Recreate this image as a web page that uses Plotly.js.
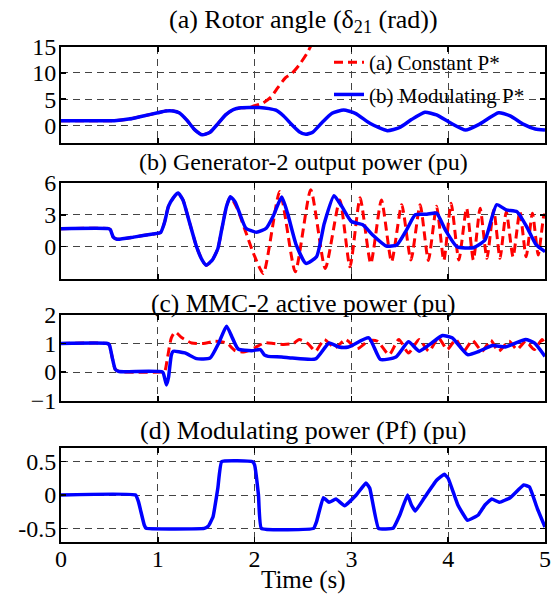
<!DOCTYPE html>
<html>
<head>
<meta charset="utf-8">
<script src="https://cdn.plot.ly/plotly-3.0.1.min.js"></script>
<style>html,body{margin:0;padding:0;background:#fff;}#chart{width:553px;height:599px;}</style>
</head>
<body>
<div id="chart"></div>
<script>
// ---------- Data (time in s) ----------
// (a) Rotor angle delta21 (rad)
const aBlueT = [0,0.55,0.7,0.85,1.0,1.08,1.16,1.22,1.3,1.38,1.46,1.54,1.62,1.7,1.78,1.86,1.95,2.05,2.15,2.22,2.3,2.38,2.46,2.53,2.6,2.7,2.8,2.92,3.04,3.2,3.37,3.5,3.62,3.76,3.88,4.02,4.18,4.32,4.52,4.64,4.78,4.9,5.0];
const aBlueY = [0.9,0.9,1.2,1.8,2.4,2.75,2.75,2.4,1.0,-0.8,-1.8,-1.3,0.3,2.0,3.0,3.35,3.4,3.4,3.2,2.9,1.8,0.2,-1.2,-1.7,-1.3,0.6,2.3,2.95,2.3,0.3,-1.0,-0.4,1.1,2.5,2.0,0.5,-0.9,0.2,2.4,1.8,0.2,-0.7,-0.9];
const aRedT = [0,0.55,0.7,0.85,1.0,1.08,1.16,1.22,1.3,1.38,1.46,1.54,1.62,1.7,1.78,1.86,1.95,1.99,2.08,2.17,2.24,2.32,2.39,2.46,2.54,2.58,2.66];
const aRedY = [0.9,0.9,1.2,1.8,2.4,2.75,2.75,2.4,1.0,-0.8,-1.8,-1.3,0.3,2.0,3.0,3.35,3.4,3.7,4.2,5.4,7.2,9.1,10.0,11.5,13.7,15.1,18.0];

// (b) Generator-2 output power (pu)
const bBlueT = [0,0.49,0.51,0.54,0.58,0.75,0.95,1.03,1.07,1.11,1.16,1.21,1.26,1.33,1.4,1.46,1.5,1.56,1.62,1.66,1.71,1.75,1.8,1.845,1.91,2.02,2.12,2.19,2.28,2.34,2.43,2.53,2.64,2.72,2.82,2.9,3.0,3.12,3.22,3.36,3.47,3.57,3.66,3.78,3.88,3.97,4.09,4.26,4.38,4.5,4.6,4.71,4.81,4.91,5.0];
const bBlueY = [1.7,1.7,1.6,0.9,0.7,0.9,1.2,1.35,2.3,3.8,4.6,5.05,4.4,2.2,0.0,-1.3,-1.75,-1.3,-0.2,1.6,3.8,4.7,4.2,3.16,1.74,1.36,1.74,2.84,4.67,3.16,0.16,-1.58,-0.95,2.2,4.8,3.8,2.37,2.05,1.1,0.06,0.16,1.58,3.0,3.05,3.16,1.58,0.0,-0.1,0.63,3.95,3.47,3.3,1.9,0.16,-0.47];
const bRedT = [0,0.49,0.51,0.54,0.58,0.75,0.95,1.03,1.07,1.11,1.16,1.21,1.26,1.33,1.4,1.46,1.5,1.56,1.62,1.66,1.71,1.75,1.82,1.9,2.0,2.09,2.26,2.42,2.58,2.73,2.88,2.985,3.09,3.2,3.31,3.415,3.52,3.615,3.71,3.795,3.88,3.955,4.03,4.11,4.19,4.26,4.33,4.4,4.47,4.535,4.6,4.67,4.74,4.805,4.87,4.93,4.99,5.0];
const bRedY = [1.7,1.7,1.6,0.9,0.7,0.9,1.2,1.35,2.3,3.8,4.6,5.05,4.4,2.2,0.0,-1.3,-1.75,-1.3,-0.2,1.6,3.8,4.7,3.6,1.6,-0.9,-2.53,5.2,-2.37,5.37,-2.05,4.4,-1.9,4.6,-1.58,4.4,-1.42,3.95,-1.26,3.95,-1.3,3.8,-1.3,4.1,-1.26,3.63,-1.26,3.63,-1.1,3.47,-1.1,3.3,-0.95,3.3,-0.95,3.16,-0.79,3.0,2.8];

// (c) MMC-2 active power (pu)
const cBlueT = [0,0.48,0.5,0.53,0.56,0.6,1.05,1.07,1.09,1.11,1.14,1.16,1.28,1.4,1.54,1.63,1.71,1.77,1.83,1.97,2.06,2.1,2.14,2.28,2.39,2.63,2.77,2.87,2.97,3.18,3.3,3.46,3.59,3.7,3.83,3.94,4.04,4.2,4.32,4.46,4.59,4.8,4.89,5.0];
const cBlueY = [1.0,1.0,0.95,0.5,0.1,0.02,0.0,-0.2,-0.45,-0.2,0.6,0.73,0.67,0.47,0.49,1.02,1.61,1.2,0.81,0.75,0.79,0.6,0.55,0.53,0.49,0.46,1.02,0.88,0.88,1.2,0.44,0.53,1.06,0.73,1.02,1.28,1.2,0.61,0.73,0.93,0.88,1.14,1.02,0.55];
const cRedT = [0,0.48,0.5,0.53,0.56,0.6,1.05,1.07,1.1,1.14,1.18,1.25,1.35,1.47,1.59,1.71,1.8,1.9,2.0,2.1,2.2,2.3,2.4,2.46,2.55,2.63,2.72,2.83,2.94,3.06,3.18,3.27,3.39,3.49,3.59,3.7,3.8,3.9,3.99,4.08,4.16,4.25,4.35,4.44,4.52,4.63,4.71,4.8,4.89,4.97,5.0];
const cRedY = [1.0,1.0,0.95,0.5,0.1,0.02,0.0,0.0,0.5,1.2,1.4,1.2,1.02,1.0,1.08,1.02,0.75,0.71,0.85,1.02,1.0,0.97,1.0,1.14,1.0,0.73,1.14,0.85,1.14,0.82,1.1,1.08,0.61,1.14,0.67,1.14,0.73,1.2,0.79,1.14,0.73,1.11,0.73,1.11,0.73,1.08,0.79,1.08,0.79,1.14,0.95];

// (d) Modulating power Pf (pu)
const dBlueT = [0,0.77,0.8,0.86,0.88,1.48,1.52,1.57,1.62,1.66,1.98,2.0,2.04,2.07,2.61,2.64,2.71,2.77,2.84,2.93,3.05,3.15,3.19,3.28,3.43,3.5,3.58,3.62,3.66,3.75,3.88,3.96,4.0,4.1,4.2,4.31,4.38,4.45,4.53,4.64,4.78,4.84,4.92,5.0];
const dBlueY = [0,0,-0.1,-0.45,-0.5,-0.5,-0.47,-0.33,0.1,0.5,0.5,0.45,0.0,-0.5,-0.5,-0.4,-0.04,-0.11,-0.06,-0.16,0.0,0.18,0.1,-0.5,-0.5,-0.3,0.0,-0.15,-0.24,-0.05,0.22,0.31,0.25,-0.15,-0.38,-0.3,-0.15,-0.06,-0.11,-0.04,0.15,0.12,-0.2,-0.48];

// Labels
const titles = ['(a) Rotor angle (δ<sub>21</sub> (rad))','(b) Generator-2 output power (pu)','(c) MMC-2 active power (pu)','(d) Modulating power (Pf) (pu)'];
const legendNames = ['(a) Constant P*','(b) Modulating P*'];
const xTicks = [0,1,2,3,4,5];
const yTicksA = [0,5,10,15];
const yTicksB = [0,3,6];
const yTicksC = [-1,0,1,2];
const yTicksD = [-0.5,0,0.5];
const yTickTextD = ['-0.5','0','0.5'];
const xLabel = 'Time (s)';

// ---------- Styling ----------
const FONT = '"Times New Roman", "Liberation Serif", Times, "DejaVu Serif", serif';
const RED = '#ff0000', BLUE = '#0000ff';
const redLine = {color: RED, width: 3, dash: '9px,5px', shape: 'spline', smoothing: 0.6};
const blueLine = {color: BLUE, width: 3.5, shape: 'spline', smoothing: 0.5};

function tr(x, y, line, xa, ya, name, show, grp) {
  return {x: x, y: y, type: 'scatter', mode: 'lines', line: line, xaxis: xa, yaxis: ya,
          name: name || '', showlegend: !!show, legendgroup: grp || undefined, hoverinfo: 'skip'};
}
const data = [
  tr(aRedT, aRedY, redLine, 'x', 'y', legendNames[0], true, 'g1'),
  tr(aBlueT, aBlueY, blueLine, 'x', 'y', legendNames[1], true, 'g2'),
  tr(bRedT, bRedY, redLine, 'x2', 'y2'),
  tr(bBlueT, bBlueY, blueLine, 'x2', 'y2'),
  tr(cRedT, cRedY, redLine, 'x3', 'y3'),
  tr(cBlueT, cBlueY, blueLine, 'x3', 'y3'),
  tr(dBlueT, dBlueY, Object.assign({}, blueLine, {smoothing: 0.3}), 'x4', 'y4')
];

const W = 553, H = 599;
const xl = 61, xr = 545;
const xDom = [xl / W, xr / W];
function yDom(top, bot) { return [1 - bot / H, 1 - top / H]; }

const common = {
  showline: true, linecolor: '#000', linewidth: 2, mirror: 'ticks',
  ticks: 'inside', ticklen: 5, tickwidth: 1.5, tickcolor: '#000',
  showgrid: true, gridcolor: '#444', gridwidth: 1, griddash: '7px,5px',
  zeroline: false, tickfont: {family: FONT, size: 24, color: '#000'}
};
function xa(anchor, showLabels) {
  return Object.assign({}, common, {domain: xDom, range: [0, 5], tickvals: xTicks,
    showticklabels: showLabels, anchor: anchor, fixedrange: true, ticklabelstandoff: -6});
}
function ya(anchor, dom, range, vals, text) {
  const o = Object.assign({}, common, {domain: dom, range: range, tickvals: vals, anchor: anchor, fixedrange: true, ticklabelstandoff: -2});
  if (text) o.ticktext = text;
  return o;
}

const domA = yDom(46.7, 142.7), domB = yDom(183, 278.5), domC = yDom(315, 400.6), domD = yDom(448.3, 541.7);
const midX = (xl + xr) / 2 / W;
function ann(text, ypx, size) {
  return {text: text, xref: 'paper', yref: 'paper', x: midX, y: 1 - ypx / H,
          xanchor: 'center', yanchor: 'middle', showarrow: false,
          font: {family: FONT, size: size, color: '#000'}};
}

const layout = {
  width: W, height: H,
  margin: {l: 0, r: 0, t: 0, b: 0},
  paper_bgcolor: '#fff', plot_bgcolor: '#fff',
  font: {family: FONT, color: '#000'},
  showlegend: true,
  legend: {x: 329 / W, y: 1 - 42 / H, xanchor: 'left', yanchor: 'top',
           bgcolor: 'rgba(0,0,0,0)', borderwidth: 0, tracegroupgap: 2, traceorder: 'grouped',
           font: {family: FONT, size: 21, color: '#000'}},
  // white panel behind the legend that hides grid lines only (drawn under the traces)
  shapes: [{type: 'rect', xref: 'paper', yref: 'paper', layer: 'between',
            x0: 331 / W, x1: 541 / W, y0: 1 - 110 / H, y1: 1 - 48 / H,
            fillcolor: '#fff', line: {width: 0}}],
  xaxis: xa('y', false), yaxis: ya('x', domA, [-3.3, 15], yTicksA),
  xaxis2: xa('y2', false), yaxis2: ya('x2', domB, [-3, 6], yTicksB),
  xaxis3: xa('y3', false), yaxis3: ya('x3', domC, [-1, 2], yTicksC),
  xaxis4: xa('y4', true), yaxis4: ya('x4', domD, [-0.7, 0.7], yTicksD, yTickTextD),
  annotations: [
    ann(titles[0], 21, 26), ann(titles[1], 161.7, 24), ann(titles[2], 303, 25.5), ann(titles[3], 430, 26),
    ann(xLabel, 580, 25)
  ]
};

Plotly.newPlot('chart', data, layout, {staticPlot: true, displayModeBar: false});
</script>
</body>
</html>
